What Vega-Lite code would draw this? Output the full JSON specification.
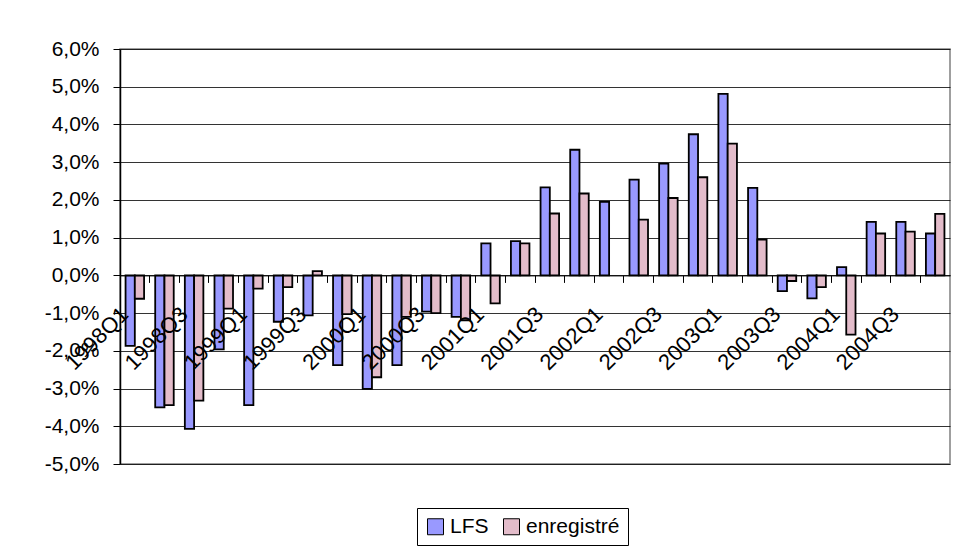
{
  "$schema": "https://vega.github.io/schema/vega-lite/v6.json",
  "width": 830,
  "height": 415,
  "autosize": {"type": "none"},
  "padding": {"left": 120, "top": 49, "right": 10, "bottom": 96},
  "background": "white",
  "config": {
    "font": "Liberation Sans",
    "view": {"stroke": "#808080", "strokeWidth": 1.5},
    "locale": {"number": {"decimal": ",", "thousands": " ", "grouping": [3], "currency": ["", " €"], "minus": "-", "percent": "%"}}
  },
  "data": {
    "values": [
      {"quarter": "1998Q1", "series": "LFS", "value": -0.0187},
      {"quarter": "1998Q1", "series": "enregistré", "value": -0.0062},
      {"quarter": "1998Q2", "series": "LFS", "value": -0.035},
      {"quarter": "1998Q2", "series": "enregistré", "value": -0.0344},
      {"quarter": "1998Q3", "series": "LFS", "value": -0.0407},
      {"quarter": "1998Q3", "series": "enregistré", "value": -0.0332},
      {"quarter": "1998Q4", "series": "LFS", "value": -0.0196},
      {"quarter": "1998Q4", "series": "enregistré", "value": -0.0088},
      {"quarter": "1999Q1", "series": "LFS", "value": -0.0344},
      {"quarter": "1999Q1", "series": "enregistré", "value": -0.0035},
      {"quarter": "1999Q2", "series": "LFS", "value": -0.0123},
      {"quarter": "1999Q2", "series": "enregistré", "value": -0.0031},
      {"quarter": "1999Q3", "series": "LFS", "value": -0.0106},
      {"quarter": "1999Q3", "series": "enregistré", "value": 0.0011},
      {"quarter": "1999Q4", "series": "LFS", "value": -0.0238},
      {"quarter": "1999Q4", "series": "enregistré", "value": -0.0103},
      {"quarter": "2000Q1", "series": "LFS", "value": -0.0301},
      {"quarter": "2000Q1", "series": "enregistré", "value": -0.027},
      {"quarter": "2000Q2", "series": "LFS", "value": -0.0238},
      {"quarter": "2000Q2", "series": "enregistré", "value": -0.011},
      {"quarter": "2000Q3", "series": "LFS", "value": -0.0096},
      {"quarter": "2000Q3", "series": "enregistré", "value": -0.01},
      {"quarter": "2000Q4", "series": "LFS", "value": -0.011},
      {"quarter": "2000Q4", "series": "enregistré", "value": -0.0119},
      {"quarter": "2001Q1", "series": "LFS", "value": 0.0085},
      {"quarter": "2001Q1", "series": "enregistré", "value": -0.0074},
      {"quarter": "2001Q2", "series": "LFS", "value": 0.0091},
      {"quarter": "2001Q2", "series": "enregistré", "value": 0.0085},
      {"quarter": "2001Q3", "series": "LFS", "value": 0.0233},
      {"quarter": "2001Q3", "series": "enregistré", "value": 0.0164},
      {"quarter": "2001Q4", "series": "LFS", "value": 0.0333},
      {"quarter": "2001Q4", "series": "enregistré", "value": 0.0217},
      {"quarter": "2002Q1", "series": "LFS", "value": 0.0195},
      {"quarter": "2002Q2", "series": "LFS", "value": 0.0254},
      {"quarter": "2002Q2", "series": "enregistré", "value": 0.0148},
      {"quarter": "2002Q3", "series": "LFS", "value": 0.0296},
      {"quarter": "2002Q3", "series": "enregistré", "value": 0.0205},
      {"quarter": "2002Q4", "series": "LFS", "value": 0.0374},
      {"quarter": "2002Q4", "series": "enregistré", "value": 0.026},
      {"quarter": "2003Q1", "series": "LFS", "value": 0.0481},
      {"quarter": "2003Q1", "series": "enregistré", "value": 0.0349},
      {"quarter": "2003Q2", "series": "LFS", "value": 0.0232},
      {"quarter": "2003Q2", "series": "enregistré", "value": 0.0095},
      {"quarter": "2003Q3", "series": "LFS", "value": -0.0042},
      {"quarter": "2003Q3", "series": "enregistré", "value": -0.0015},
      {"quarter": "2003Q4", "series": "LFS", "value": -0.0061},
      {"quarter": "2003Q4", "series": "enregistré", "value": -0.0031},
      {"quarter": "2004Q1", "series": "LFS", "value": 0.0022},
      {"quarter": "2004Q1", "series": "enregistré", "value": -0.0157},
      {"quarter": "2004Q2", "series": "LFS", "value": 0.0142},
      {"quarter": "2004Q2", "series": "enregistré", "value": 0.0111},
      {"quarter": "2004Q3", "series": "LFS", "value": 0.0142},
      {"quarter": "2004Q3", "series": "enregistré", "value": 0.0116},
      {"quarter": "2004Q4", "series": "LFS", "value": 0.0111},
      {"quarter": "2004Q4", "series": "enregistré", "value": 0.0163}
    ]
  },
  "mark": {"type": "bar", "stroke": "black", "strokeWidth": 1.8},
  "encoding": {
    "x": {
      "field": "quarter",
      "type": "nominal",
      "sort": null,
      "scale": {"paddingInner": 0, "paddingOuter": 0},
      "axis": {
        "title": null,
        "orient": "bottom",
        "offset": -188.6,
        "bandPosition": 0,
        "domainColor": "black",
        "domainWidth": 1,
        "tickColor": "black",
        "tickSize": 7,
        "labelAngle": -45,
        "labelAlign": "right",
        "labelBaseline": "middle",
        "labelPadding": 28,
        "labelOffset": -10,
        "labelFontSize": 22,
        "labelColor": "black",
        "labelOverlap": false,
        "labelExpr": "(indexof(datum.value, 'Q1') >= 0 || indexof(datum.value, 'Q3') >= 0) ? datum.value : ''",
        "grid": false,
        "zindex": 1
      }
    },
    "xOffset": {
      "field": "series",
      "type": "nominal",
      "sort": ["LFS", "enregistré"],
      "scale": {"paddingOuter": 0.6, "paddingInner": 0}
    },
    "y": {
      "field": "value",
      "type": "quantitative",
      "scale": {"domain": [-0.05, 0.06], "nice": false, "zero": false},
      "axis": {
        "title": null,
        "values": [-0.05, -0.04, -0.03, -0.02, -0.01, 0, 0.01, 0.02, 0.03, 0.04, 0.05, 0.06],
        "format": ".1%",
        "labelFontSize": 21,
        "labelColor": "black",
        "labelPadding": 14,
        "tickColor": "black",
        "tickSize": 7,
        "domainColor": "black",
        "domainWidth": 1.5,
        "gridColor": "black",
        "gridWidth": 1,
        "gridOpacity": 0.8
      }
    },
    "color": {
      "field": "series",
      "type": "nominal",
      "sort": ["LFS", "enregistré"],
      "scale": {"domain": ["LFS", "enregistré"], "range": ["#9999FF", "#E3BCCA"]},
      "legend": {
        "title": null,
        "orient": "none",
        "direction": "horizontal",
        "legendX": 297,
        "legendY": 459,
        "symbolType": "square",
        "symbolSize": 256,
        "symbolStrokeColor": "black",
        "symbolStrokeWidth": 1,
        "labelFontSize": 21,
        "labelColor": "black",
        "columnPadding": 12,
        "strokeColor": "black",
        "fillColor": "white",
        "padding": 8
      }
    }
  }
}
